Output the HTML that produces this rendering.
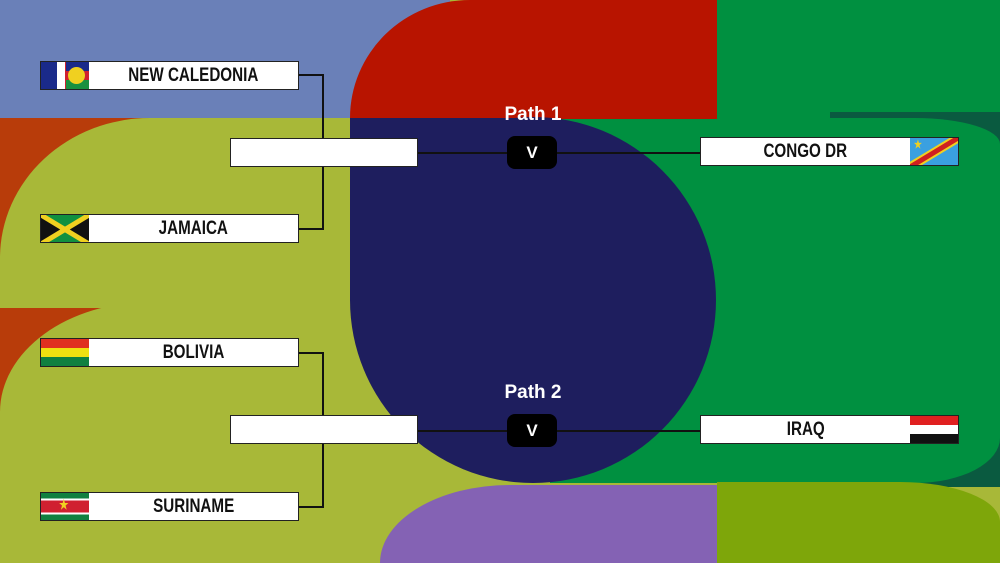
<!DOCTYPE html>
<html><head><meta charset="utf-8"><style>
*{margin:0;padding:0;box-sizing:border-box}
body{width:1000px;height:563px;overflow:hidden;position:relative;background:#a8b838;font-family:"Liberation Sans",sans-serif}
.a{position:absolute}
.box{position:absolute;background:#fff;border:1.5px solid #222;height:29px;font-weight:bold;font-size:19px;color:#111;display:flex;align-items:center;justify-content:center}
.box span{display:inline-block;transform:scaleX(0.8)}
.flag{position:absolute;top:0;width:48px;height:100%;overflow:hidden}
.line{position:absolute;background:#111}
.v{position:absolute;left:507px;width:50px;height:33px;background:#000;border-radius:8px;color:#fff;font-weight:bold;font-size:17px;display:flex;align-items:center;justify-content:center}
.path{position:absolute;width:120px;left:473px;text-align:center;color:#fff;font-weight:bold;font-size:19px}
</style></head><body>
<div class="a" style="left:0;top:0;width:450px;height:120px;background:#6a80b8"></div>
<div class="a" style="left:0;top:118px;width:160px;height:300px;background:#b83c0a"></div>
<div class="a" style="left:0;top:118px;width:380px;height:190px;background:#a8b838;border-top-left-radius:150px 140px"></div>
<div class="a" style="left:0;top:302px;width:380px;height:261px;background:#a8b838;border-top-left-radius:150px 110px"></div>
<div class="a" style="left:717px;top:0;width:283px;height:120px;background:#009040"></div>
<div class="a" style="left:830px;top:112px;width:170px;height:375px;background:#0a5a40"></div>
<div class="a" style="left:550px;top:118px;width:450px;height:365px;background:#009040;border-top-right-radius:85px 26px;border-bottom-right-radius:85px 45px"></div>
<div class="a" style="left:350px;top:0;width:367px;height:119px;background:#b81400;border-top-left-radius:120px 118px"></div>
<div class="a" style="left:350px;top:117px;width:366px;height:366px;background:#1e1e5e;border-radius:50%"></div>
<div class="a" style="left:350px;top:118px;width:183px;height:183px;background:#1e1e5e"></div>
<div class="a" style="left:380px;top:485px;width:337px;height:78px;background:#8462b4;border-top-left-radius:150px 90px"></div>
<div class="a" style="left:717px;top:482px;width:283px;height:81px;background:#7ea60a;border-top-right-radius:100px 40px"></div>

<div class="line" style="left:298px;top:74px;width:26px;height:1.5px"></div>
<div class="line" style="left:322px;top:74px;width:1.5px;height:156px"></div>
<div class="line" style="left:298px;top:228px;width:26px;height:1.5px"></div>
<div class="line" style="left:417px;top:152px;width:284px;height:1.5px"></div>
<div class="line" style="left:298px;top:352px;width:26px;height:1.5px"></div>
<div class="line" style="left:322px;top:352px;width:1.5px;height:155px"></div>
<div class="line" style="left:298px;top:506px;width:26px;height:1.5px"></div>
<div class="line" style="left:417px;top:430px;width:284px;height:1.5px"></div>

<div class="box" style="left:40px;top:61px;width:259px;padding-left:48px"><span>NEW CALEDONIA</span>
<div class="flag" style="left:0;background:linear-gradient(90deg,#1a2a8a 0 16px,#fff 16px 24px,#d02030 24px 26px,#1a2a8a 26px 48px)"><div class="a" style="left:25px;top:0;width:23px;height:100%;background:linear-gradient(#1a2a8a 0 33%,#d02030 33% 66%,#1a9040 66%)"></div><div class="a" style="left:27px;top:5px;width:17px;height:17px;border-radius:50%;background:#f0d020"></div></div></div>
<div class="box" style="left:40px;top:214px;width:259px;padding-left:48px"><span>JAMAICA</span>
<div class="flag" style="left:0;background:#109040"><svg width="48" height="29" class="a" style="left:0;top:0"><polygon points="0,0 24,14.5 0,29" fill="#111"/><polygon points="48,0 24,14.5 48,29" fill="#111"/><line x1="0" y1="0" x2="48" y2="29" stroke="#f0d020" stroke-width="5"/><line x1="48" y1="0" x2="0" y2="29" stroke="#f0d020" stroke-width="5"/></svg></div></div>
<div class="box" style="left:40px;top:338px;width:259px;padding-left:48px"><span>BOLIVIA</span>
<div class="flag" style="left:0;background:linear-gradient(#e03020 0 33%,#f0e010 33% 66%,#108040 66%)"></div></div>
<div class="box" style="left:40px;top:492px;width:259px;padding-left:48px"><span>SURINAME</span>
<div class="flag" style="left:0;background:linear-gradient(#108040 0 20%,#fff 20% 28%,#d02030 28% 72%,#fff 72% 80%,#108040 80%)"><span class="a" style="left:17px;top:4px;color:#f0d020;font-size:13px">★</span></div></div>

<div class="box" style="left:230px;top:138px;width:188px"></div>
<div class="box" style="left:230px;top:415px;width:188px"></div>

<div class="path" style="top:104px">Path 1</div>
<div class="v" style="top:136px">V</div>
<div class="path" style="top:382px">Path 2</div>
<div class="v" style="top:414px">V</div>

<div class="box" style="left:700px;top:137px;width:259px;padding-right:48px"><span>CONGO DR</span>
<div class="flag" style="right:0;background:#3aa0e0"><svg width="48" height="29" class="a" style="left:0;top:0"><line x1="0" y1="29" x2="48" y2="0" stroke="#f0d020" stroke-width="9"/><line x1="0" y1="29" x2="48" y2="0" stroke="#d02020" stroke-width="5"/></svg><span class="a" style="left:3px;top:0;color:#f0d020;font-size:11px">★</span></div></div>
<div class="box" style="left:700px;top:415px;width:259px;padding-right:48px"><span>IRAQ</span>
<div class="flag" style="right:0;background:linear-gradient(#e02020 0 33%,#fff 33% 66%,#111 66%)"></div></div>
</body></html>
